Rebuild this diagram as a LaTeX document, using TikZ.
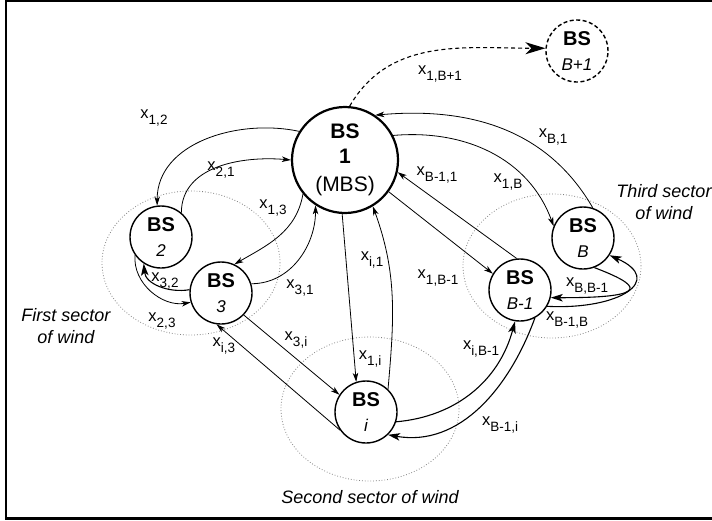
\documentclass[tikz,border=0pt]{standalone}
\usepackage{fontspec}
\setmainfont{Liberation Sans}
\usetikzlibrary{arrows.meta}

% flow variable x_{a,b} set as plain text
\newcommand{\xl}[1]{x\raisebox{-5.5pt}{\fontsize{13.5}{14}\selectfont #1}}
% two-line base station name
\newcommand{\bsname}[1]{\textbf{BS}\\[-1pt]{\fontsize{17}{20}\selectfont\itshape #1}}

\begin{document}
\begin{tikzpicture}[x=1pt, y=1pt,
  bs/.style={circle, draw, fill=white, line width=1.4pt, minimum size=62pt,
    inner sep=0pt, align=center, font=\fontsize{20}{26}\selectfont},
  mbs/.style={bs, line width=2.2pt, minimum size=106pt, font=\fontsize{21}{26}\selectfont},
  link/.style={line width=0.8pt, -{Stealth[length=9pt, width=5.5pt, inset=2.5pt]}},
  biglink/.style={line width=1.1pt, -{Stealth[length=12pt, width=7.5pt, inset=3pt]}},
  dashlink/.style={line width=1.1pt, dash pattern=on 4pt off 3pt,
    -{Stealth[length=20pt, width=12pt, inset=6pt]}},
  sector/.style={gray, dotted, line width=0.8pt},
  lbl/.style={inner sep=0pt, font=\fontsize{16.5}{18}\selectfont},
  windtxt/.style={align=center, inner sep=0pt, font=\fontsize{18}{22}\selectfont\itshape}]
  \useasboundingbox (0,0) rectangle (712,-520);

  % Frame (open on the right)
  \draw[line width=2.5pt] (712,-1.2) -- (6.2,-1.2) -- (6.2,-518.7) -- (712,-518.7);

  % Sectors of wind
  \foreach \cx/\cy in {191/263, 370/409, 552/266}
    \draw[sector] (\cx,-\cy) ellipse [x radius=89, y radius=72];
  \node[windtxt] (w1) at (66,-326) {First sector\\of wind};
  \node[windtxt] (w2) at (370,-497) {Second sector of wind};
  \node[windtxt] (w3) at (664,-202) {Third sector\\of wind};

  % Base stations
  \node[mbs] (bs1) at (345,-160) {\textbf{BS}\\[-1pt]\textbf{1}\\[2pt](MBS)};
  \node[bs] (bs2) at (161,-237) {\bsname{2}};
  \node[bs] (bs3) at (221,-293) {\bsname{3}};
  \node[bs] (bsi) at (366,-412) {\bsname{i}};
  \node[bs] (bsbm) at (520,-290) {\bsname{B-1}};
  \node[bs] (bsb) at (583,-238) {\bsname{B}};
  \node[bs, dashed, dash pattern=on 4pt off 2.5pt] (bsbp) at (577,-51) {\bsname{B+1}};

  % First sector
  \draw[link] (bs1.148) to[out=168, in=90] (bs2.97);
  \draw[link] (bs2.50) to[out=90, in=175] (bs1.180);
  \draw[link] (bs1.219) to[out=-100, in=30] (bs3.65);
  \draw[link] (bs3.17) to[out=0, in=-90] (bs1.237);
  \draw[biglink] (bs3.174) to[out=190, in=-85] (bs2.237);
  \draw[link] (bs2.215) to[out=-95, in=190] (bs3.197);
  \draw[link] (bs3.-44) -- (bsi.147);
  \draw[link] (bsi.215) -- (bs3.262);

  % Second sector
  \draw[link] (bs1.267) -- (bsi.108);
  \draw[link] (bsi.46) to[out=85, in=-70] (bs1.301);
  \draw[biglink] (bsi.-18) to[out=5, in=-105] (bsbm.261);
  \draw[biglink] (bsbm.-62) to[out=-110, in=-10] (bsi.-46);

  % Third sector
  \draw[link] (bs1.-36) -- (bsbm.149);
  \draw[link] (bsbm.96) -- (bs1.-13);
  \draw[link] (bs1.27) to[out=5, in=110] (bsb.158);
  \draw[link] (bsb.72) to[out=120, in=5] (bs1.56);
  \draw[biglink] (bsb.-69) .. controls (640,-285) and (655,-298) .. (bsbm.-14);
  \draw[biglink] (bsbm.-31) .. controls (620,-310) and (665,-280) .. (bsb.-33);

  % New station
  \draw[dashlink] (bs1.85) to[out=60, in=180] (bsbp.175);

  % Flow labels
  \foreach \n/\x/\y/\t in {l12/154/118/{1,2}, l21/221/170/{2,1}, l13/273/208/{1,3},
      l32/165/281/{3,2}, l23/162/321/{2,3}, l31/300/288/{3,1}, li3/224/346/{i,3},
      l3i/296/340/{3,i}, li1/372/260/{i,1}, l1i/370/359/{1,i}, l1bm/438/278/{1,B-1},
      libm/481/349/{i,B-1}, lbmi/500/425/{B-1,i}, lbbm/587/286/{B,B-1},
      lbmb/567/320/{B-1,B}, lb1/553/137/{B,1}, l1b/508/182/{1,B},
      lbm1/437/175/{B-1,1}, l1bp/440/74/{1,B+1}}
    \node[lbl] (\n) at (\x,-\y) {\xl{\t}};
\end{tikzpicture}
\end{document}
